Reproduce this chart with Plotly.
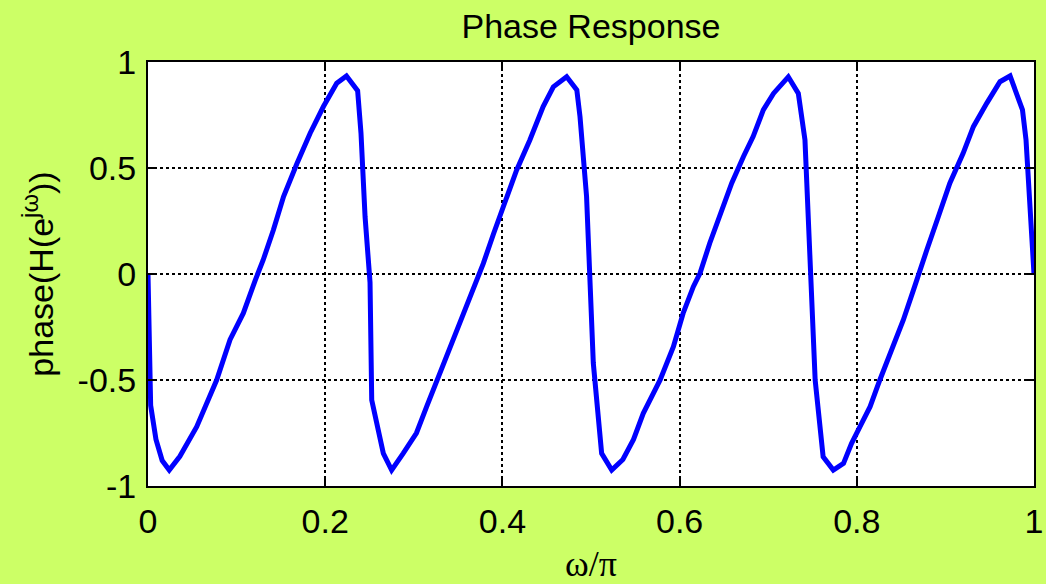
import plotly.graph_objects as go

# Normalised frequency (omega/pi) and phase in radians, one list pair per period
w1 = [0, 0.003, 0.009, 0.016, 0.024, 0.036, 0.055, 0.0775, 0.0926, 0.1076, 0.121, 0.130,
      0.1415, 0.153, 0.168, 0.183, 0.198, 0.213, 0.224, 0.2366, 0.2404, 0.245, 0.2506, 0.2525]
p1 = [0, -0.62, -0.78, -0.88, -0.925, -0.86, -0.72, -0.5, -0.31, -0.185, -0.03, 0.066,
      0.2075, 0.365, 0.52, 0.664, 0.79, 0.90, 0.934, 0.865, 0.664, 0.27, -0.04, -0.594]

w2 = [0.2656, 0.275, 0.288, 0.303, 0.3145, 0.3277, 0.337, 0.348, 0.3597, 0.371, 0.3785, 0.39,
      0.401, 0.416, 0.431, 0.446, 0.4575, 0.4725, 0.484, 0.4876, 0.495, 0.499, 0.5026, 0.512]
p2 = [-0.846, -0.925, -0.846, -0.75, -0.626, -0.484, -0.39, -0.264, -0.154, -0.03, 0.05, 0.19,
      0.317, 0.49, 0.632, 0.79, 0.883, 0.93, 0.868, 0.742, 0.365, -0.044, -0.42, -0.846]

w3 = [0.5234, 0.536, 0.548, 0.559, 0.578, 0.593, 0.604, 0.6155, 0.623, 0.634, 0.6456, 0.6588,
      0.672, 0.683, 0.6945, 0.706, 0.7227, 0.734, 0.7415, 0.745, 0.748, 0.753, 0.762]
p3 = [-0.925, -0.875, -0.78, -0.657, -0.5, -0.343, -0.185, -0.06, 0.003, 0.145, 0.27, 0.428,
      0.553, 0.648, 0.774, 0.852, 0.93, 0.852, 0.632, 0.27, -0.107, -0.5, -0.862]

w4 = [0.7735, 0.785, 0.794, 0.8036, 0.815, 0.826, 0.841, 0.8525, 0.864, 0.8675, 0.879, 0.892,
      0.905, 0.920, 0.9316, 0.9466, 0.9616, 0.973, 0.987, 0.991, 1.0]
p4 = [-0.925, -0.893, -0.8, -0.72, -0.626, -0.5, -0.343, -0.217, -0.075, -0.028, 0.113, 0.27,
      0.428, 0.569, 0.695, 0.805, 0.907, 0.934, 0.774, 0.632, 0.0]

omega = w1 + w2 + w3 + w4
phase = p1 + p2 + p3 + p4

x_ticks = [0, 0.2, 0.4, 0.6, 0.8, 1]
x_labels = ["0", "0.2", "0.4", "0.6", "0.8", "1"]
y_ticks = [-1, -0.5, 0, 0.5, 1]
y_labels = ["-1", "-0.5", "0", "0.5", "1"]

FONT = "Liberation Sans, Arial, sans-serif"

fig = go.Figure()
fig.add_trace(go.Scatter(
    x=omega, y=phase, mode="lines",
    line=dict(color="#0000FF", width=5),
    showlegend=False, hoverinfo="skip",
))

axis_common = dict(
    automargin=False,
    showline=True, linecolor="black", linewidth=2, mirror="ticks",
    ticks="inside", ticklen=8, tickwidth=2, tickcolor="black",
    showgrid=True, gridcolor="black", gridwidth=1.8, griddash="3px,3px",
    zeroline=False,
    tickfont=dict(family=FONT, size=34, color="black"),
)

fig.update_layout(
    width=1046, height=584,
    paper_bgcolor="#CCFF66", plot_bgcolor="white",
    margin=dict(l=148, r=12, t=62, b=98),
    title=dict(text="Phase Response", x=0.5, xref="paper", xanchor="center",
               y=1 - 26 / 584, yref="container", yanchor="middle",
               font=dict(family=FONT, size=34, color="black")),
    xaxis=dict(range=[0, 1], tickvals=x_ticks, ticktext=x_labels,
               ticklabelstandoff=4,
               title=dict(text="ω/π", standoff=14,
                          font=dict(family="Liberation Serif, Times New Roman, serif",
                                    size=36, color="black")),
               **axis_common),
    yaxis=dict(range=[-1, 1], tickvals=y_ticks, ticktext=y_labels,
               ticklabelstandoff=3,
               title=dict(text="phase(H(e<sup>jω</sup>))", standoff=14,
                          font=dict(family=FONT, size=34, color="black")),
               **axis_common),
)

fig.write_html("out.html")
